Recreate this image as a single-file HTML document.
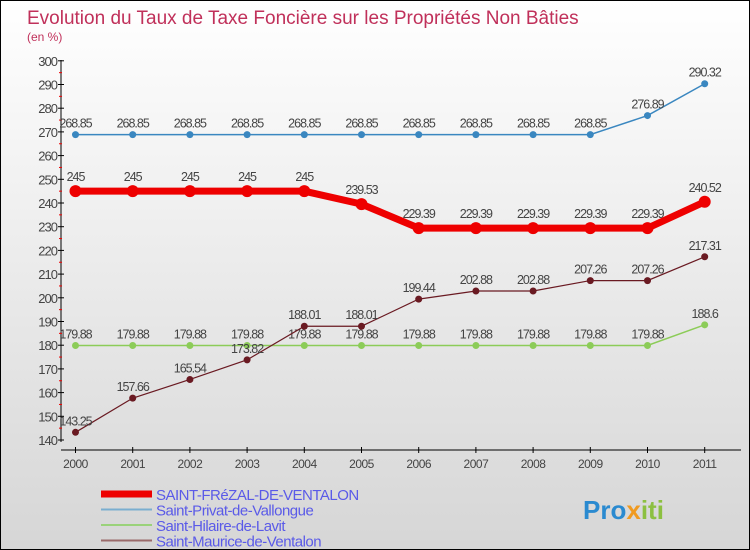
<!DOCTYPE html>
<html><head><meta charset="utf-8"><style>
body{margin:0}
#c{width:748px;height:548px;border:1px solid #000;background:linear-gradient(#fff,#d6d6d6);position:relative;font-family:"Liberation Sans",sans-serif;overflow:hidden}
</style></head><body>
<div id="c">
<svg id="s" width="748" height="548"></svg>
</div>
<script>
const years=["2000","2001","2002","2003","2004","2005","2006","2007","2008","2009","2010","2011"];
const frezal=[245,245,245,245,245,239.53,229.39,229.39,229.39,229.39,229.39,240.52];
const privat=[268.85,268.85,268.85,268.85,268.85,268.85,268.85,268.85,268.85,268.85,276.89,290.32];
const hilaire=[179.88,179.88,179.88,179.88,179.88,179.88,179.88,179.88,179.88,179.88,179.88,188.6];
const maurice=[143.25,157.66,165.54,173.82,188.01,188.01,199.44,202.88,202.88,207.26,207.26,217.31];
const yTicks=[140,150,160,170,180,190,200,210,220,230,240,250,260,270,280,290,300];
const legendNames=["SAINT-FRéZAL-DE-VENTALON","Saint-Privat-de-Vallongue","Saint-Hilaire-de-Lavit","Saint-Maurice-de-Ventalon"];
const NS="http://www.w3.org/2000/svg",s=document.getElementById('s');
const X=i=>74.5+i*57.2, Y=v=>439-(v-140)*2.37;
function el(t,a,name,txt){const e=document.createElementNS(NS,t);for(const k in a)e.setAttribute(k,a[k]);


if(txt!==undefined)e.textContent=txt;s.appendChild(e);return e;}
el('text',{x:26,y:23,fill:'#c0305a','font-size':19},'chart-title','Evolution du Taux de Taxe Foncière sur les Propriétés Non Bâties');
el('text',{x:26,y:40,fill:'#c0305a','font-size':12},'y-unit','(en %)');
el('line',{x1:60,y1:59,x2:60,y2:441,stroke:'#000'},'y-axis');
el('line',{x1:60,y1:449,x2:740,y2:449,stroke:'#000'},'x-axis');
yTicks.forEach(v=>{el('line',{x1:57,x2:63,y1:Y(v),y2:Y(v),stroke:'#000'},'y-tick');
if(v<300)el('line',{x1:58,x2:61,y1:Y(v+5),y2:Y(v+5),stroke:'#e00'},'y-minor-tick');
el('text',{x:56,y:Y(v)+5,'text-anchor':'end','font-size':13,fill:'#444','letter-spacing':'-1'},'y-tick-label',v);});
years.forEach((y,i)=>{el('line',{x1:X(i),x2:X(i),y1:446,y2:452,stroke:'#000'},'x-tick');
el('text',{x:X(i),y:467,'text-anchor':'middle','font-size':12,fill:'#444','letter-spacing':'-0.5'},'x-tick-label',y);});
function series(d,col,w,r,name,dy){
el('polyline',{points:d.map((v,i)=>X(i)+','+Y(v)).join(' '),fill:'none',stroke:col,'stroke-width':w},name+'-line');
d.forEach((v,i)=>{el('circle',{cx:X(i),cy:Y(v),r:r,fill:col},name+'-point');
el('text',{x:X(i),y:Y(v)-dy,'text-anchor':'middle','font-size':12.5,fill:'#444','letter-spacing':'-1'},name+'-value',v);});}
series(privat,'#3a87c0',1.5,3.5,'privat',7);
series(hilaire,'#8ccc58',1.5,3.5,'hilaire',7);
series(maurice,'#6a1a22',1.2,3.5,'maurice',7);
series(frezal,'#ee0000',7,6,'frezal',10);
const lc=['#ee0000','#7aaed0','#9ad27a','#9a6a6a'],lw=[7,2,2,2];
legendNames.forEach((n,i)=>{const y=493+i*15.5;
el('line',{x1:100,x2:151,y1:y,y2:y,stroke:lc[i],'stroke-width':lw[i]},'legend-swatch');
el('text',{x:155,y:y+6,'font-size':15,fill:'#5a5ae8','letter-spacing':'-0.5'},'legend-entry',n);});
const logo=el('text',{x:582,y:518,'font-size':26,'font-weight':'bold'},'logo');
[['Pro','#2a8ad0'],['x','#f09a20'],['iti','#8cc040']].forEach(p=>{const t=document.createElementNS(NS,'tspan');t.setAttribute('fill',p[1]);t.textContent=p[0];


logo.appendChild(t);});
</script>
</body></html>
